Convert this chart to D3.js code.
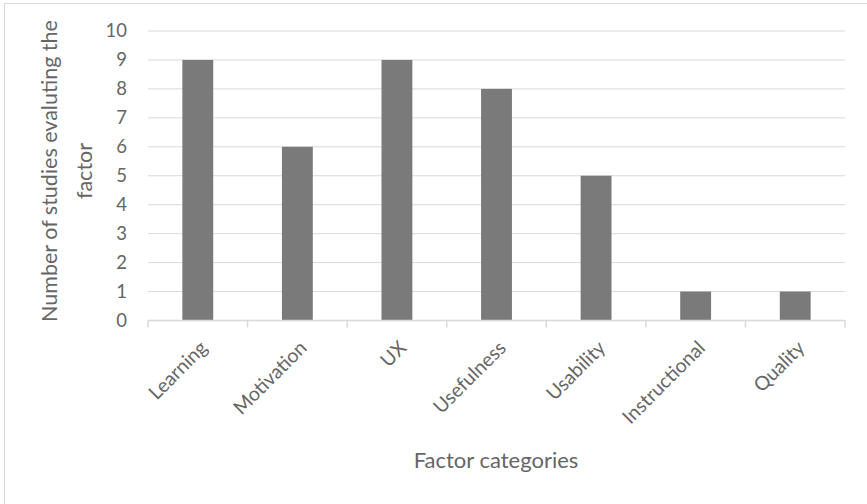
<!DOCTYPE html>
<html><head><meta charset="utf-8">
<script src="https://cdn.jsdelivr.net/npm/d3@7"></script>
<style>
body{margin:0;background:#fff;}
text{font-family:Lato,"Open Sans",sans-serif;fill:#666666;}
</style></head>
<body><svg id="c" width="867" height="504"></svg>
<script>
const categories = ["Learning","Motivation","UX","Usefulness","Usability","Instructional","Quality"];
const values = [9,6,9,8,5,1,1];
const yTicks = [0,1,2,3,4,5,6,7,8,9,10];
const yTitle = ["Number of studies evaluting the","factor"];
const xTitle = "Factor categories";

(function(){
const svg = d3.select("#c");
svg.append("rect").attr("x",4.5).attr("y",3.5).attr("width",870).attr("height",510)
  .attr("fill","#fff").attr("stroke","#d9d9d9").attr("stroke-width",1);

const pLeft=148, pRight=845, pTop=31, pBottom=320.5;
const x = d3.scaleBand().domain(categories).range([pLeft,pRight]).paddingInner(0.69).paddingOuter(0.345);
const xb = d3.scaleBand().domain(categories).range([pLeft,pRight]);
const y = d3.scaleLinear().domain([0,10]).range([pBottom,pTop]);

svg.append("g").selectAll("line").data(yTicks.filter(d=>d>0)).join("line")
  .attr("x1",pLeft).attr("x2",pRight).attr("y1",d=>y(d)).attr("y2",d=>y(d))
  .attr("stroke","#d9d9d9").attr("stroke-width",1);

const ya = svg.append("g").attr("transform",`translate(${pLeft},0)`)
  .call(d3.axisLeft(y).tickValues(yTicks).tickSize(0).tickPadding(21));
ya.select(".domain").remove();
ya.selectAll("text").style("font-size","18.5px").attr("fill","#666666").style("font-family","Lato");

svg.append("g").selectAll("rect").data(values).join("rect")
  .attr("x",(d,i)=>x(categories[i])).attr("width",x.bandwidth())
  .attr("y",d=>y(d)).attr("height",d=>y(0)-y(d)).attr("fill","#7a7a7a");

svg.append("line").attr("x1",pLeft).attr("x2",pRight).attr("y1",y(0)).attr("y2",y(0))
  .attr("stroke","#d9d9d9").attr("stroke-width",1.5);
const bounds = categories.map(c=>xb(c)).concat([pRight]);
svg.append("g").selectAll("line").data(bounds).join("line")
  .attr("x1",d=>d).attr("x2",d=>d).attr("y1",y(0)).attr("y2",y(0)+7)
  .attr("stroke","#d9d9d9").attr("stroke-width",1.5);

svg.append("g").selectAll("text").data(categories).join("text")
  .attr("transform",d=>`translate(${xb(d)+xb.bandwidth()/2+1},${y(0)+19}) rotate(-45)`)
  .attr("text-anchor","end").attr("dy","0.7em")
  .style("font-size","19.5px").text(d=>d);

svg.append("text").attr("x",496).attr("y",468).attr("text-anchor","middle")
  .style("font-size","22px").text(xTitle);
const yt = svg.append("text").attr("transform","translate(57,171) rotate(-90)")
  .attr("text-anchor","middle").style("font-size","21.5px");
yTitle.forEach((t,i)=>yt.append("tspan").attr("x",0).attr("y",i*35).text(t));
})();
</script></body></html>
